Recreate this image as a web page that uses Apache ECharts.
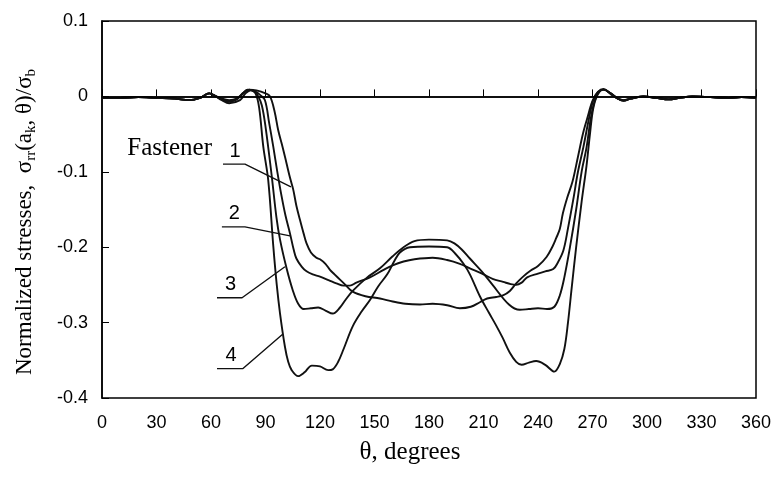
<!DOCTYPE html>
<html><head><meta charset="utf-8">
<script src="https://cdn.jsdelivr.net/npm/echarts@6/dist/echarts.min.js"></script>
<style>html,body{margin:0;padding:0;background:#fff}#c{width:775px;height:480px}</style>
</head><body><div id="c"></div>
<script>
// theta (degrees) and normalized stress for each fastener
const theta1 = [0,10,20,30,40,48,54,59,62,66,70,74,78,81,85,90,92.5,95,97,99.5,101.6,103.5,105.3,107,109,111,112.6,115,118,120,123,125.5,128,131,134,138,145,153,160,167,175,182,190,197,203,208,212,217,220.7,224.5,228,231.8,236,240,244.7,248,250,252,253.7,256,259,262,264.8,267,270,273,276,280,284,287,291,298,305,312,318,325,335,345,352,360];
const stress1 = [-0.002,-0.002,-0.001,-0.002,-0.003,-0.005,-0.002,0.004,0.001,-0.003,-0.005,-0.003,0.005,0.009,0.008,0.004,0.0,-0.02,-0.045,-0.068,-0.089,-0.108,-0.124,-0.145,-0.164,-0.182,-0.195,-0.207,-0.214,-0.216,-0.222,-0.23,-0.236,-0.243,-0.25,-0.259,-0.265,-0.268,-0.272,-0.275,-0.276,-0.275,-0.277,-0.281,-0.279,-0.273,-0.268,-0.266,-0.264,-0.258,-0.248,-0.239,-0.231,-0.225,-0.213,-0.199,-0.188,-0.176,-0.155,-0.135,-0.113,-0.08,-0.049,-0.03,-0.006,0.006,0.01,0.004,-0.003,-0.005,-0.003,0.0,-0.002,-0.004,-0.002,0.0,-0.001,-0.002,-0.001,-0.002];

const theta2 = [0,10,20,30,40,48,54,59,62,66,70,74,78,81,84,87,89.7,92,94.3,96.5,98.9,101,103.5,105.5,107,110,112.6,116,120,125,129,133,136.5,140,147.5,155,160,166,172,182,190,197,202.5,210,215,220.8,225,228,231,234,240,244,248.4,251,254,256.5,259.4,262,265,268,270.4,273,276,280,284,287,291,298,305,312,318,325,335,345,352,360];
const stress2 = [-0.002,-0.002,-0.001,-0.002,-0.003,-0.005,-0.002,0.004,0.001,-0.004,-0.006,-0.004,0.005,0.009,0.007,0.002,-0.005,-0.035,-0.067,-0.1,-0.133,-0.158,-0.182,-0.203,-0.215,-0.226,-0.232,-0.236,-0.239,-0.244,-0.248,-0.251,-0.251,-0.247,-0.24,-0.23,-0.224,-0.219,-0.216,-0.214,-0.217,-0.222,-0.228,-0.236,-0.242,-0.246,-0.249,-0.25,-0.247,-0.24,-0.235,-0.232,-0.229,-0.22,-0.204,-0.175,-0.137,-0.1,-0.067,-0.03,-0.005,0.006,0.009,0.004,-0.003,-0.006,-0.003,0.0,-0.002,-0.004,-0.002,0.0,-0.001,-0.002,-0.001,-0.002];

const theta3 = [0,10,20,30,40,48,54,59,62,66,70,74,78,80,84,86,88,90,93.4,96,98,101.6,105,108,111,115,119,123,127,131,134,138,146,153,160,166,172,180,190,194,198,202.5,209,215,224,230,235,240,245,249,252,254.5,257.6,261,264,266.7,269,271.3,274,276.5,280,284,287,291,298,305,312,318,325,335,345,352,360];
const stress3 = [-0.002,-0.002,-0.001,-0.002,-0.003,-0.005,-0.002,0.004,0.001,-0.004,-0.007,-0.004,0.005,0.009,0.006,0.0,-0.012,-0.04,-0.105,-0.16,-0.19,-0.228,-0.257,-0.275,-0.282,-0.281,-0.28,-0.284,-0.288,-0.28,-0.27,-0.258,-0.24,-0.228,-0.212,-0.2,-0.192,-0.19,-0.191,-0.195,-0.203,-0.215,-0.232,-0.25,-0.276,-0.283,-0.282,-0.281,-0.282,-0.279,-0.264,-0.24,-0.2,-0.15,-0.1,-0.068,-0.03,-0.005,0.007,0.009,0.003,-0.003,-0.005,-0.003,0.0,-0.002,-0.004,-0.002,0.0,-0.001,-0.002,-0.001,-0.002];

const theta4 = [0,10,20,30,40,48,54,59,62,66,70,76,79,82,84.5,86.5,88.8,91.5,94.3,96.2,98,100.7,102.5,104.4,108,111.5,115.5,120,124.5,127,130,133,138,143,147.5,152,157,161,164,169.5,180,190,195,199,202.5,208,213,217,220.5,224.5,228,231,235,239,244,249,252,254.5,256.5,258.5,261,264,266.7,268.6,270.4,273,276,280,284,287,291,298,305,312,318,325,335,345,352,360];
const stress4 = [-0.002,-0.002,-0.001,-0.002,-0.003,-0.005,-0.002,0.004,0.001,-0.005,-0.009,-0.005,0.004,0.008,0.004,-0.015,-0.067,-0.111,-0.199,-0.25,-0.288,-0.332,-0.352,-0.363,-0.371,-0.366,-0.357,-0.358,-0.363,-0.362,-0.352,-0.335,-0.305,-0.285,-0.27,-0.252,-0.236,-0.218,-0.207,-0.2,-0.199,-0.2,-0.21,-0.222,-0.236,-0.265,-0.287,-0.304,-0.32,-0.34,-0.352,-0.356,-0.353,-0.351,-0.356,-0.365,-0.355,-0.335,-0.3,-0.255,-0.2,-0.14,-0.092,-0.05,-0.016,0.003,0.009,0.004,-0.003,-0.006,-0.003,0.0,-0.002,-0.004,-0.002,0.0,-0.001,-0.002,-0.001,-0.002];

// label leader lines (data coordinates): underline start, underline end, point on curve
const leaderNames = ['1','2','3','4'];
const leaderTheta = [[66.6,78.7,104.0],[66.0,78.7,103.5],[63.3,77.1,100.7],[63.3,77.6,99.6]];
const leaderStress = [[-0.0898,-0.0898,-0.120],[-0.173,-0.173,-0.185],[-0.267,-0.267,-0.226],[-0.361,-0.361,-0.315]];

const xTicks = {min:0, max:360, interval:30};
const yTicks = {min:-0.4, max:0.1, interval:0.1};

const chart = echarts.init(document.getElementById('c'), null, {renderer:'canvas'});
const pair = (t, s) => t.map((v, i) => [v, s[i]]);
const curveStyle = {type:'line', smooth:0.35, showSymbol:false, symbol:'none', silent:true,
  lineStyle:{color:'#111', width:1.9}, z:3};
const series = [
  Object.assign({}, curveStyle, {name:'1', data: pair(theta1, stress1),
    markLine:{silent:true, symbol:'none', label:{show:false}, lineStyle:{color:'#000', width:1.5, type:'solid'}, data:[{yAxis:0}]}}),
  Object.assign({}, curveStyle, {name:'2', data: pair(theta2, stress2)}),
  Object.assign({}, curveStyle, {name:'3', data: pair(theta3, stress3)}),
  Object.assign({}, curveStyle, {name:'4', data: pair(theta4, stress4)})
];
leaderTheta.forEach((t, i) => {
  series.push({type:'line', silent:true, showSymbol:false, symbol:'none', smooth:false,
    lineStyle:{color:'#111', width:1.4}, data: pair(t, leaderStress[i]), z:2});
});
const axisFont = {fontFamily:'"Liberation Sans", Arial, sans-serif', fontSize:18, color:'#000'};
chart.setOption({
  animation:false,
  grid:{left:102, right:19, top:21, bottom:82, show:true, borderColor:'#000', borderWidth:1.5, backgroundColor:'transparent'},
  xAxis:{type:'value', min:xTicks.min, max:xTicks.max, interval:xTicks.interval,
    axisLine:{lineStyle:{color:'#000', width:1.5}},
    axisTick:{inside:true, length:7, lineStyle:{color:'#000', width:1}},
    splitLine:{show:false},
    axisLabel:Object.assign({margin:16}, axisFont)},
  yAxis:{type:'value', min:yTicks.min, max:yTicks.max, interval:yTicks.interval,
    axisLine:{show:true, lineStyle:{color:'#000', width:1.5}},
    axisTick:{show:true, inside:true, length:7, lineStyle:{color:'#000', width:1}},
    splitLine:{show:false},
    axisLabel:Object.assign({margin:14, formatter: v => (Math.abs(v) < 1e-9 ? '0' : (Math.round(v*10)/10).toString())}, axisFont)},
  series: series
});

const gfx = [];
leaderNames.forEach((n, i) => {
  const a = chart.convertToPixel({gridIndex:0}, [leaderTheta[i][0], leaderStress[i][0]]);
  const b = chart.convertToPixel({gridIndex:0}, [leaderTheta[i][1], leaderStress[i][1]]);
  gfx.push({type:'text', x:(a[0]+b[0])/2 + 1, y:a[1]-3, silent:true,
    style:{text:n, fill:'#000', font:'20px "Liberation Sans", Arial, sans-serif', textAlign:'center', textVerticalAlign:'bottom'}});
  if (i === 0) {
    gfx.push({type:'text', x:a[0]-11, y:a[1]-3, silent:true,
      style:{text:'Fastener', fill:'#000', font:'25px "Liberation Serif", "Times New Roman", serif', textAlign:'right', textVerticalAlign:'bottom'}});
  }
});
gfx.push({type:'text', x:410, y:452, silent:true,
  style:{text:'θ, degrees', fill:'#000', font:'25px "Liberation Serif", "Times New Roman", serif', textAlign:'center', textVerticalAlign:'middle'}});
gfx.push({type:'text', x:25, y:222, rotation:Math.PI/2, silent:true,
  style:{text:'Normalized stresses,  σ{s|rr}(a{s|k}, θ)/σ{s|b}', fill:'#000',
    fontFamily:'"Liberation Serif", "Times New Roman", serif', fontSize:23, lineHeight:28,
    align:'center', verticalAlign:'middle',
    rich:{s:{fontFamily:'"Liberation Serif", "Times New Roman", serif', fontSize:15, lineHeight:28, verticalAlign:'bottom', fill:'#000'}}}});
chart.setOption({graphic:{elements:gfx}});
</script></body></html>
